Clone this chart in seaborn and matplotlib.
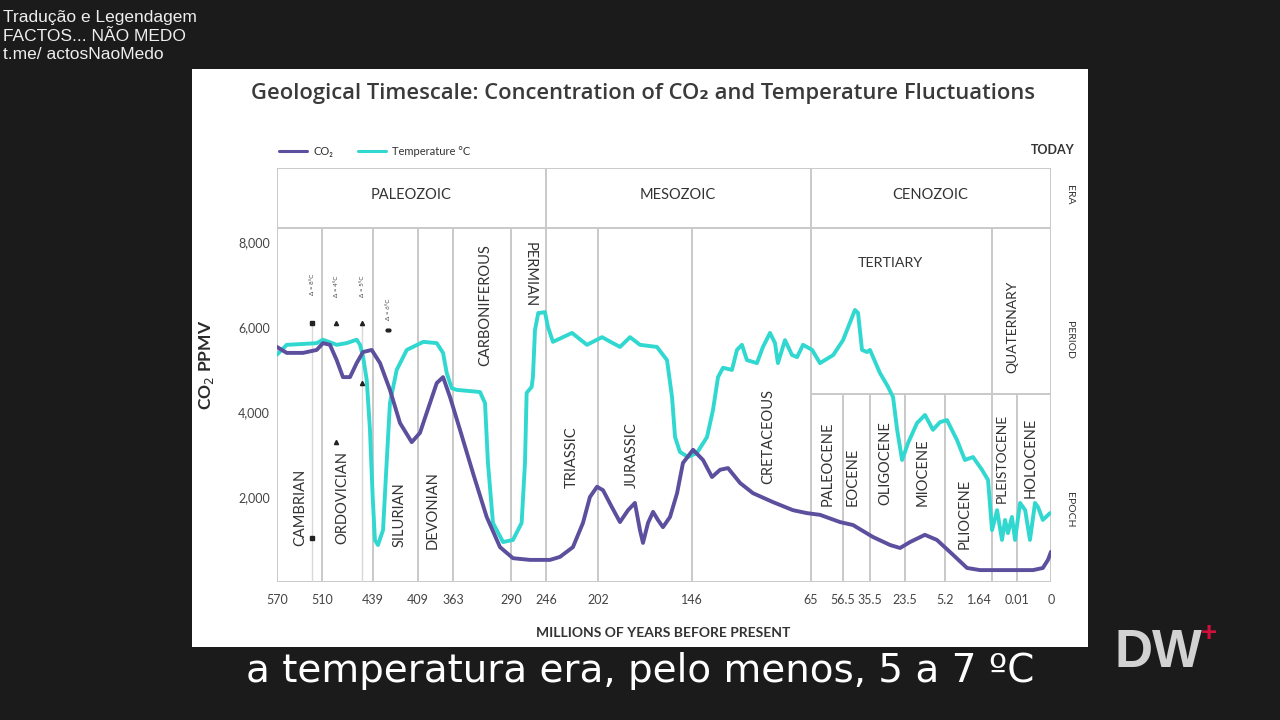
import numpy as np
import pandas as pd
import matplotlib
matplotlib.use("Agg")
import matplotlib.pyplot as plt
from matplotlib.patches import Rectangle
from matplotlib.lines import Line2D
import seaborn as sns

# ---------------- data (ages in millions of years before present) ----------------
tick_ages = [570, 510, 439, 409, 363, 290, 246, 202, 146, 65, 56.5, 35.5, 23.5, 5.2, 1.64, 0.01, 0]
tick_labels = ["570", "510", "439", "409", "363", "290", "246", "202", "146",
               "65", "56.5", "35.5", "23.5", "5.2", "1.64", "0.01", "0"]

era_bounds = [246, 65]
period_bounds = [510, 439, 409, 363, 290, 202, 146]
quaternary_bound = [1.64]
epoch_bounds = [56.5, 35.5, 23.5, 5.2, 0.01]

temp_age = [570, 557, 535.3, 517, 508.6, 489.5, 475.6, 461.7, 457, 452.8, 447.7, 443.2,
            439.4, 437.7, 435.7, 432.3, 429.9, 427.7, 423.2, 416.5, 402, 384.4, 376.1,
            371.3, 364.7, 358.3, 329, 322.7, 319, 312.7, 300, 287.5, 276.6, 272.4, 270.3,
            264, 262.4, 259.8, 255.7, 253.5, 247.3, 244.3, 240.1, 231.6, 224, 211.3, 199.6,
            188.9, 182.9, 177, 166.9, 160.9, 157.9, 156.1, 153.2, 148.4, 142.6, 135.8,
            131.7, 128.3, 124.9, 118.8, 115.4, 112, 108.6, 101.8, 97.7, 92.9, 89.5, 87.5,
            82.7, 77.9, 74.5, 70.4, 64.7, 62.6, 59.1, 56.5, 47.2, 44.8, 41.7, 37.8, 35.5,
            32.1, 29.3, 27.6, 26.2, 24.5, 22.1, 18, 14.35, 10.7, 7.5, 5.05, 4.29, 3.69,
            3.08, 2.40, 1.94, 1.64, 1.31, 0.99, 0.79, 0.60, 0.34, 0.14, 0.0091, 0.0076,
            0.0062, 0.0047, 0.0038, 0.0024, 0.0003]
temp_val = [5350, 5580, 5600, 5620, 5700, 5580, 5620, 5700, 5580, 5300, 4750, 3580,
            2000, 990, 870, 1220, 2800, 4210, 4990, 5460, 5650, 5620, 5390,
            4920, 4560, 4520, 4470, 4210, 2800, 1390, 940, 990, 1390, 2800, 4450,
            4590, 4820, 5930, 6330, 6330, 6350, 6000, 5650, 5760, 5860, 5580, 5760,
            5530, 5760, 5580, 5530, 5220, 4350, 3410, 3060, 2940, 3040, 3410,
            4050, 4820, 5040, 4990, 5460, 5580, 5220, 5150, 5530, 5860, 5620, 5150,
            5690, 5340, 5290, 5580, 5460, 5150, 5340, 5690, 6400, 6330, 5460, 5410, 5460,
            4920, 4590, 4350, 3580, 2870, 3270, 3740, 3930, 3580, 3760, 3810, 3340, 2870,
            2940, 2640, 2400, 1220, 1690, 990, 1460, 1150, 1530, 990, 1860, 1690,
            990, 1860, 1760, 1460, 1620]

co2_age = [570, 557, 535.3, 517, 508.6, 498.9, 489.5, 480.8, 471, 461.7, 452.9, 440.8,
           434.3, 427.7, 421, 413.2, 406.4, 397.6, 384.4, 376.1, 366.9, 354.2, 337.8,
           320.6, 303.8, 287.5, 266.1, 242.6, 234.2, 223.2, 214.7, 208.8, 202.8, 199,
           193.7, 188.9, 184.1, 180, 177, 175.2, 172.2, 169.2, 166.3, 163.3, 159.1, 154.9,
           151.4, 145.3, 138.5, 132.4, 126.9, 121.5, 113.3, 104.5, 90.9, 77.3, 67.7, 62.6,
           57.3, 48.7, 34.5, 28.6, 25.2, 21.2, 14.4, 8.9, 4.59, 3.53, 2.55, 1.12, 0.0053,
           0.0024, 0.0009, 0]
co2_val = [5530, 5390, 5390, 5460, 5620, 5580, 5220, 4820, 4820, 5150, 5410, 5460,
           5150, 4520, 3740, 3290, 3510, 3980, 4680, 4820, 4350, 3580, 2560,
           1530, 820, 560, 520, 520, 590, 820, 1390, 2000, 2240, 2160,
           1760, 1410, 1690, 1860, 1220, 920, 1390, 1650, 1460, 1290, 1530, 2090,
           2800, 3110, 2870, 2470, 2640, 2680, 2330, 2090, 1880, 1690, 1620, 1580,
           1410, 1340, 1060, 870, 800, 940, 1110, 990, 640, 330, 280, 280, 280,
           330, 520, 710]

# range markers in the Cambrian-Silurian
mark_age = [523.3, 523.3, 490.5, 490.5, 454.3, 454.3, 429.5, 428.5]
mark_val = [6094, 1035, 6094, 3294, 6094, 4682, 5930, 5930]
mark_text = ["Δ ≈ 8°C", "Δ ≈ 4°C", "Δ ≈ 5°C", "Δ ≈ 6°C"]

yticks = [2000, 4000, 6000, 8000]
ytick_labels = ["2,000", "4,000", "6,000", "8,000"]

CO2_COLOR = "#5b4f9e"
TEMP_COLOR = "#30d8d0"
GRID = "#c9c9c9"
TXT = "#333333"

# ---------------- figure ----------------
sns.set_theme(style="white")
plt.rcParams["font.family"] = ["Lato", "DejaVu Sans"]

fig = plt.figure(figsize=(12.8, 7.2), dpi=100, facecolor="#1b1b1b")
fig.patches.append(Rectangle((192 / 1280, 1 - 647 / 720), 896 / 1280, 578 / 720,
                             transform=fig.transFigure, facecolor="white",
                             edgecolor="none", zorder=-5))

ax = fig.add_axes([277 / 1280, 1 - 582 / 720, 774 / 1280, 414 / 720])
ax.set_zorder(2)
ax.set_facecolor("white")

df = pd.concat([
    pd.DataFrame({"age": temp_age, "value": temp_val, "series": "Temperature °C"}),
    pd.DataFrame({"age": co2_age, "value": co2_val, "series": "CO₂"}),
], ignore_index=True)

sns.lineplot(data=df, x="age", y="value", hue="series",
             hue_order=["Temperature °C", "CO₂"],
             palette={"Temperature °C": TEMP_COLOR, "CO₂": CO2_COLOR},
             linewidth=2.8, sort=False, estimator=None, legend=False, ax=ax, zorder=3)

# piecewise time scale (position of each boundary along the printed axis)
scale_ages = np.array([1200] + tick_ages + [-1], dtype=float)
scale_pos = np.array([-0.6, 0.0, 0.0581, 0.1240, 0.1822, 0.2274, 0.3023, 0.3475, 0.4147,
                      0.5362, 0.6899, 0.7313, 0.7661, 0.8114, 0.8630, 0.9238, 0.9561,
                      1.0, 1.5])


def fwd(a):
    return np.interp(-np.asarray(a, dtype=float), -scale_ages, scale_pos)


def inv(p):
    return -np.interp(np.asarray(p, dtype=float), scale_pos, -scale_ages)


ax.set_xscale("function", functions=(fwd, inv))
YTOP = 9740
ROW1 = 8330
EPOCH_TOP = 4420
ax.set_xlim(570, 0)
ax.set_ylim(0, YTOP)

for s in ax.spines.values():
    s.set_visible(False)

lw = 1.4
ax.vlines([570, 0] + era_bounds, 0, YTOP, color=GRID, lw=lw, zorder=1)
ax.vlines(period_bounds + quaternary_bound, 0, ROW1, color=GRID, lw=lw, zorder=1)
ax.vlines(epoch_bounds, 0, EPOCH_TOP, color=GRID, lw=lw, zorder=1)
ax.hlines([0, ROW1, YTOP], 570, 0, color=GRID, lw=lw, zorder=1)
ax.hlines([EPOCH_TOP], 65, 0, color=GRID, lw=lw, zorder=1)

# faint range lines + markers
ax.vlines([523.3, 454.3], 0, 6094, color="#d8d8d8", lw=1.0, zorder=1)
ax.plot(mark_age[:2], mark_val[:2], ls="none", marker="s", ms=2.5, color="#222", zorder=4)
ax.plot(mark_age[2:6], mark_val[2:6], ls="none", marker="^", ms=3, color="#222", zorder=4)
ax.plot(mark_age[6:], mark_val[6:], ls="none", marker="o", ms=2, color="#222", zorder=4)

# ticks
ax.set_xticks(tick_ages)
ax.set_xticklabels(tick_labels)
ax.set_yticks(yticks)
ax.set_yticklabels(ytick_labels)
ax.tick_params(axis="both", length=0, labelsize=9, labelcolor="#444")
ax.tick_params(axis="x", pad=9)
ax.tick_params(axis="y", pad=5)
for lab in ax.get_xticklabels():
    if lab.get_text() == "1.64":
        lab.set_horizontalalignment("right")
ax.set_xlabel("")
ax.set_ylabel("")
ax.grid(False)
ax.set_xlim(570, 0)

# make sure the oldest age sits on the left
fig.canvas.draw()
if ax.transData.transform((570, 0))[0] > ax.transData.transform((0, 0))[0]:
    ax.invert_xaxis()

for fx, fy, t in zip([0.0465, 0.0775, 0.111, 0.1445], [0.72, 0.715, 0.715, 0.66], mark_text):
    ax.text(fx, fy, t, transform=ax.transAxes, rotation=90, fontsize=4.5,
            ha="center", va="center", color="#444")


def px(x, y):
    return ((x - 277) / 774, (582 - y) / 414)


def label(x, y, t, rot=0, size=10.5, weight="normal"):
    fx, fy = px(x, y)
    ax.text(fx, fy, t, transform=ax.transAxes, rotation=rot, fontsize=size,
            ha="center", va="center", color=TXT, weight=weight, clip_on=False)


# eras
label(411, 195, "PALEOZOIC", size=10.5)
label(678, 195, "MESOZOIC", size=10.5)
label(930, 195, "CENOZOIC", size=10.5)
# periods
label(300, 507, "CAMBRIAN", rot=90)
label(342, 498, "ORDOVICIAN", rot=90)
label(400, 515, "SILURIAN", rot=90)
label(433, 510, "DEVONIAN", rot=90)
label(485, 305, "CARBONIFEROUS", rot=90)
label(530, 275, "PERMIAN", rot=270)
label(572, 457, "TRIASSIC", rot=90)
label(632, 455, "JURASSIC", rot=90)
label(768, 437, "CRETACEOUS", rot=90)
label(890, 263, "TERTIARY", size=10.3)
label(1012, 327, "QUATERNARY", rot=90, size=10)
# epochs
label(828, 464, "PALEOCENE", rot=90)
label(853, 477, "EOCENE", rot=90)
label(885, 463, "OLIGOCENE", rot=90)
label(923, 472, "MIOCENE", rot=90)
label(965, 514, "PLIOCENE", rot=90)
label(1002, 458, "PLEISTOCENE", rot=90, size=10)
label(1031, 458, "HOLOCENE", rot=90)
# right side
label(1070, 195, "ERA", rot=270, size=7.5)
label(1070, 340, "PERIOD", rot=270, size=7.5)
label(1070, 510, "EPOCH", rot=270, size=7.5)
label(1053, 150, "TODAY", size=9, weight="bold")

# legend
handles = [Line2D([], [], color=CO2_COLOR, lw=2.2), Line2D([], [], color=TEMP_COLOR, lw=2.2)]
ax.legend(handles, ["CO₂", "Temperature °C"], loc="lower left", bbox_to_anchor=(-0.003, 1.017),
          ncol=2, frameon=False, fontsize=8, handlelength=2.5, handletextpad=0.6,
          columnspacing=2.2, borderaxespad=0, labelcolor=TXT)

# titles
fig.text(643 / 1280, 1 - 93 / 720, "Geological Timescale: Concentration of CO₂ and Temperature Fluctuations",
         ha="center", va="center", fontsize=15.8, weight="semibold", color="#3a3a3a",
         family=["Open Sans", "DejaVu Sans"])
fig.text(207 / 1280, 1 - 365 / 720, "CO$_2$ PPMV", rotation=90, ha="center", va="center",
         fontsize=12.5, weight="bold", color="#2a2a2a")
fig.text(663 / 1280, 1 - 633 / 720, "MILLIONS OF YEARS BEFORE PRESENT", ha="center", va="center",
         fontsize=10, weight="bold", color="#333")

# video overlay texts
fig.text(3 / 1280, 1 - 10 / 720, "Tradução e Legendagem\nFACTOS... NÃO MEDO\nt.me/ actosNaoMedo",
         ha="left", va="top", fontsize=12.5, color="#eeeeee", family=["Liberation Sans", "DejaVu Sans"],
         linespacing=1.3)
fig.text(640 / 1280, 1 - 671 / 720, "a temperatura era, pelo menos, 5 a 7 ºC", ha="center", va="center",
         fontsize=28, color="white", family=["DejaVu Sans"])
fig.text(1115 / 1280, 1 - 653 / 720, "DW", ha="left", va="center", fontsize=38, weight="bold",
         color="#d2d2d2", family=["Liberation Sans", "DejaVu Sans"])
fig.text(1209 / 1280, 1 - 634 / 720, "+", ha="center", va="center", fontsize=20, weight="bold",
         color="#d0103a", family=["Liberation Sans", "DejaVu Sans"])

fig.savefig("out.png", dpi=100, facecolor=fig.get_facecolor())
